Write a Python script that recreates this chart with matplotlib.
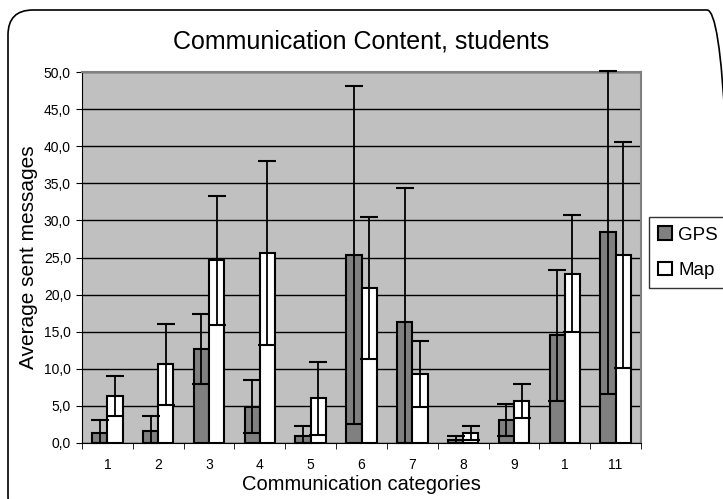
import matplotlib
matplotlib.use('Agg')
import matplotlib.pyplot as plt
from matplotlib.patches import FancyBboxPatch
import numpy as np

plt.rcParams['font.family'] = ['Liberation Sans', 'DejaVu Sans']

categories = ['1', '2', '3', '4', '5', '6', '7', '8', '9', '1', '11']
gps_mean = [1.35, 1.6, 12.7, 4.9, 0.9, 25.3, 16.3, 0.35, 3.1, 14.5, 28.4]
gps_sd = [1.75, 2.1, 4.7, 3.6, 1.4, 22.8, 18.0, 0.55, 2.1, 8.8, 21.8]
map_mean = [6.3, 10.6, 24.6, 25.6, 6.0, 20.9, 9.3, 1.35, 5.7, 22.8, 25.3]
map_sd = [2.7, 5.5, 8.7, 12.4, 4.9, 9.6, 4.5, 0.95, 2.3, 7.9, 15.2]
yticks = [0, 5, 10, 15, 20, 25, 30, 35, 40, 45, 50]

fig = plt.figure(figsize=(7.23, 4.99), dpi=100)

# rounded chart-area frame, right and bottom run off the canvas like the original
frame = FancyBboxPatch((8, -22), 724, 511, boxstyle='round,pad=0,rounding_size=25',
                       transform=None, facecolor='none', edgecolor='black',
                       linewidth=1.2, clip_on=False)
fig.patches.append(frame)

ax = fig.add_axes([82 / 723, 1 - 443 / 499, (641 - 82) / 723, (443 - 72) / 499])
ax.set_facecolor('#c0c0c0')

x = np.arange(len(categories))
w = 0.3

gm = np.array(gps_mean)
mm = np.array(map_mean)
g_low = np.minimum(gps_sd, gm)
m_low = np.minimum(map_sd, mm)

ax.bar(x - w / 2, gps_mean, w, color='#808080', edgecolor='black', linewidth=1.5,
       label='GPS', zorder=3)
ax.bar(x + w / 2, map_mean, w, color='white', edgecolor='black', linewidth=1.5,
       label='Map', zorder=3)

ax.errorbar(x - w / 2, gps_mean, yerr=[g_low, gps_sd], fmt='none', ecolor='black',
            elinewidth=1.3, capsize=6.5, capthick=1.5, zorder=4, clip_on=False)
ax.errorbar(x + w / 2, map_mean, yerr=[m_low, map_sd], fmt='none', ecolor='black',
            elinewidth=1.3, capsize=6.5, capthick=1.5, zorder=4, clip_on=False)

ax.set_ylim(0, 50)
ax.set_xlim(-0.5, len(categories) - 0.5)
ax.set_yticks(yticks)
ax.set_yticklabels([('%.1f' % v).replace('.', ',') for v in yticks], fontsize=10)
ax.yaxis.grid(True, color='black', linewidth=1)
ax.set_axisbelow(True)

ax.set_xticks(x)
ax.set_xticklabels(categories, fontsize=10)
ax.tick_params(axis='x', length=0, pad=11)
ax.set_xticks(np.arange(len(categories) + 1) - 0.5, minor=True)
ax.tick_params(axis='x', which='minor', length=4, color='black')
ax.tick_params(axis='y', length=4, color='black', pad=4)

for s in ['top', 'right']:
    ax.spines[s].set_color('#808080')
    ax.spines[s].set_linewidth(1.5)
ax.spines['left'].set_color('black')
ax.spines['bottom'].set_color('black')

ax.set_xlabel('Communication categories', fontsize=14.5, labelpad=2)
ax.set_ylabel('Average sent messages', fontsize=15, labelpad=4)
fig.text(0.5 * (82 + 641) / 723, 1 - 42 / 499, 'Communication Content, students',
         fontsize=18, ha='center', va='center')

leg = fig.legend(loc='upper left', bbox_to_anchor=(649 / 723, 1 - 217 / 499),
                 fontsize=13.5, frameon=True, fancybox=False, handlelength=0.75,
                 handleheight=0.75, handletextpad=0.3, borderpad=0.5,
                 labelspacing=0.95, borderaxespad=0)
leg.get_frame().set_edgecolor('black')
leg.get_frame().set_linewidth(1)

fig.savefig('out.png', dpi=100)
